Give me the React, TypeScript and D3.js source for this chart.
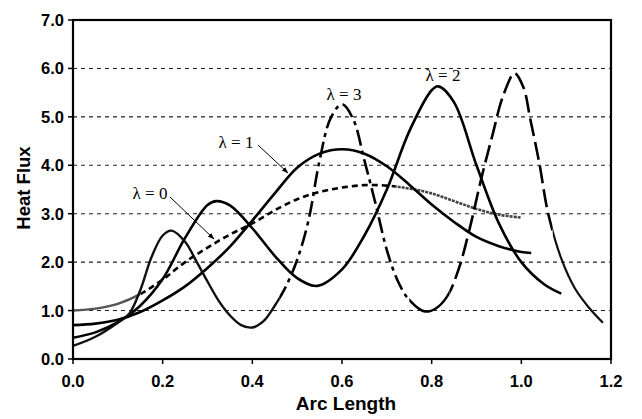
import React from "react";
import * as d3 from "d3";

const xTicks = [0, 0.2, 0.4, 0.6, 0.8, 1.0, 1.2];
const yTicks = [0, 1, 2, 3, 4, 5, 6, 7];
const gridValues = [1, 2, 3, 4, 5, 6];

// λ = 0
const l0X = [0, 0.05, 0.1, 0.15, 0.2, 0.25, 0.3, 0.35, 0.4, 0.45, 0.5, 0.55, 0.6, 0.65, 0.7, 0.75, 0.8, 0.85, 0.9, 0.95, 1.0];
const l0Y = [1.0, 1.04, 1.14, 1.34, 1.64, 2.0, 2.3, 2.57, 2.8, 3.07, 3.3, 3.45, 3.54, 3.59, 3.58, 3.52, 3.42, 3.26, 3.1, 2.98, 2.92];
// λ = 1
const l1X = [0, 0.05, 0.1, 0.15, 0.2, 0.25, 0.3, 0.35, 0.4, 0.45, 0.5, 0.55, 0.6, 0.65, 0.7, 0.75, 0.8, 0.85, 0.9, 0.95, 1.0, 1.022];
const l1Y = [0.7, 0.73, 0.81, 0.97, 1.21, 1.5, 1.88, 2.32, 2.86, 3.42, 3.95, 4.24, 4.33, 4.24, 3.98, 3.6, 3.19, 2.83, 2.52, 2.33, 2.21, 2.19];
// λ = 2
const l2X = [0, 0.05, 0.1, 0.15, 0.2, 0.25, 0.3, 0.32, 0.35, 0.4, 0.45, 0.5, 0.545, 0.6, 0.65, 0.7, 0.75, 0.8, 0.815, 0.85, 0.9, 0.95, 1.0, 1.05, 1.089];
const l2Y = [0.44, 0.55, 0.76, 1.1, 1.65, 2.5, 3.18, 3.26, 3.17, 2.7, 2.13, 1.67, 1.51, 1.85, 2.55, 3.5, 4.7, 5.55, 5.63, 5.3, 4.0, 2.8, 2.0, 1.55, 1.35];
// λ = 3
const l3X = [0, 0.05, 0.1, 0.125, 0.15, 0.175, 0.2, 0.22, 0.25, 0.275, 0.3, 0.325, 0.35, 0.375, 0.4, 0.425, 0.45, 0.475, 0.5, 0.525, 0.55, 0.575, 0.6, 0.625, 0.65, 0.675, 0.7, 0.725, 0.75, 0.785, 0.81, 0.835, 0.86, 0.885, 0.91, 0.935, 0.96, 0.985, 1.005, 1.02, 1.04, 1.06, 1.09, 1.12, 1.15, 1.182];
const l3Y = [0.27, 0.46, 0.75, 0.93, 1.42, 2.1, 2.55, 2.65, 2.42, 2.02, 1.6, 1.2, 0.9, 0.7, 0.65, 0.78, 1.1, 1.5, 2.05, 2.85, 4.1, 4.98, 5.26, 4.95, 4.1, 3.2, 2.25, 1.6, 1.22, 0.98, 1.05, 1.3, 1.85, 2.7, 3.7, 4.6, 5.45, 5.9, 5.6, 4.95, 4.05, 3.0, 2.05, 1.45, 1.07, 0.75];

const W = 642, H = 419;
const L = 73, R = 611, T = 20, B = 359;

export default function App() {
  const x = d3.scaleLinear().domain([0, 1.2]).range([L, R]);
  const y = d3.scaleLinear().domain([0, 7]).range([B, T]);
  const line = d3
    .line<[number, number]>()
    .x((d) => x(d[0]))
    .y((d) => y(d[1]))
    .curve(d3.curveCatmullRom.alpha(0.5));
  const zip = (xs: number[], ys: number[]) => xs.map((v, i) => [v, ys[i]] as [number, number]);

  const p0 = line(zip(l0X, l0Y)) || "";
  const p1 = line(zip(l1X, l1Y)) || "";
  const p2 = line(zip(l2X, l2Y)) || "";
  const p3 = line(zip(l3X, l3Y)) || "";

  const clip = (id: string, a: number, b: number) => (
    <clipPath id={id} key={id}>
      <rect x={x(a)} y={0} width={x(b) - x(a)} height={H} />
    </clipPath>
  );

  const tickFont = "'Liberation Sans', Arial, sans-serif";
  const serif = "'Liberation Serif', 'Times New Roman', serif";

  return (
    <svg width={W} height={H} style={{ position: "absolute", left: 0, top: 0, background: "#fff" }}>
      <defs>
        {clip("c0a", -0.1, 0.15)}
        {clip("c0b", 0.15, 0.72)}
        {clip("c0c", 0.72, 1.3)}
        {clip("c3a", -0.1, 0.46)}
        {clip("c3b", 0.46, 0.75)}
        {clip("c3c", 0.75, 0.84)}
        {clip("c3d", 0.84, 1.07)}
        {clip("c3e", 1.07, 1.3)}
        <marker id="arr" viewBox="0 0 10 10" refX="9" refY="5" markerWidth="7" markerHeight="7" orient="auto">
          <path d="M0,1.5 L10,5 L0,8.5 Z" fill="#000" />
        </marker>
      </defs>
      <rect x={0} y={0} width={W} height={H} fill="#fff" />

      {gridValues.map((v) => (
        <line key={v} x1={L} x2={R} y1={y(v)} y2={y(v)} stroke="#222" strokeWidth={1.1} strokeDasharray="4,4" />
      ))}

      <path d={p0} fill="none" stroke="#555" strokeWidth={2.4} clipPath="url(#c0a)" />
      <path d={p0} fill="none" stroke="#000" strokeWidth={2.6} strokeDasharray="6,4" clipPath="url(#c0b)" />
      <path d={p0} fill="none" stroke="#444" strokeWidth={2.6} strokeDasharray="3,1" clipPath="url(#c0c)" />

      <path d={p1} fill="none" stroke="#000" strokeWidth={2.6} />
      <path d={p2} fill="none" stroke="#000" strokeWidth={2.6} />

      <path d={p3} fill="none" stroke="#111" strokeWidth={2.4} clipPath="url(#c3a)" />
      <path d={p3} fill="none" stroke="#000" strokeWidth={2.6} strokeDasharray="16,5,4,5" clipPath="url(#c3b)" />
      <path d={p3} fill="none" stroke="#000" strokeWidth={2.4} clipPath="url(#c3c)" />
      <path d={p3} fill="none" stroke="#000" strokeWidth={2.6} strokeDasharray="18,6" clipPath="url(#c3d)" />
      <path d={p3} fill="none" stroke="#111" strokeWidth={2.2} clipPath="url(#c3e)" />

      <rect x={L} y={T} width={R - L} height={B - T} fill="none" stroke="#000" strokeWidth={2.2} />

      {yTicks.map((v) => (
        <g key={v}>
          <line x1={L - 5} x2={L} y1={y(v)} y2={y(v)} stroke="#000" strokeWidth={1.5} />
          <text x={L - 9} y={y(v)} dy="0.36em" textAnchor="end" fontFamily={tickFont} fontWeight="bold" fontSize={16.5}>
            {v.toFixed(1)}
          </text>
        </g>
      ))}
      {xTicks.map((v) => (
        <g key={v}>
          <line x1={x(v)} x2={x(v)} y1={B} y2={B + 5} stroke="#000" strokeWidth={1.5} />
          <text x={x(v)} y={B + 28} textAnchor="middle" fontFamily={tickFont} fontWeight="bold" fontSize={16.5}>
            {v.toFixed(1)}
          </text>
        </g>
      ))}

      <text x={(L + R) / 2 + 4} y={410} textAnchor="middle" fontFamily={tickFont} fontWeight="bold" fontSize={19}>
        Arc Length
      </text>
      <text transform={`translate(30, 188) rotate(-90)`} textAnchor="middle" fontFamily={tickFont} fontWeight="bold" fontSize={18.5}>
        Heat Flux
      </text>

      <text x={150} y={199} textAnchor="middle" fontFamily={serif} fontSize={17}>λ = 0</text>
      <line x1={170} y1={197} x2={214} y2={239} stroke="#000" strokeWidth={1} markerEnd="url(#arr)" />
      <text x={236} y={148} textAnchor="middle" fontFamily={serif} fontSize={17}>λ = 1</text>
      <line x1={258} y1={145} x2={288} y2={173} stroke="#000" strokeWidth={1} markerEnd="url(#arr)" />
      <text x={344} y={100} textAnchor="middle" fontFamily={serif} fontSize={17}>λ = 3</text>
      <text x={443} y={81} textAnchor="middle" fontFamily={serif} fontSize={17}>λ = 2</text>
    </svg>
  );
}
